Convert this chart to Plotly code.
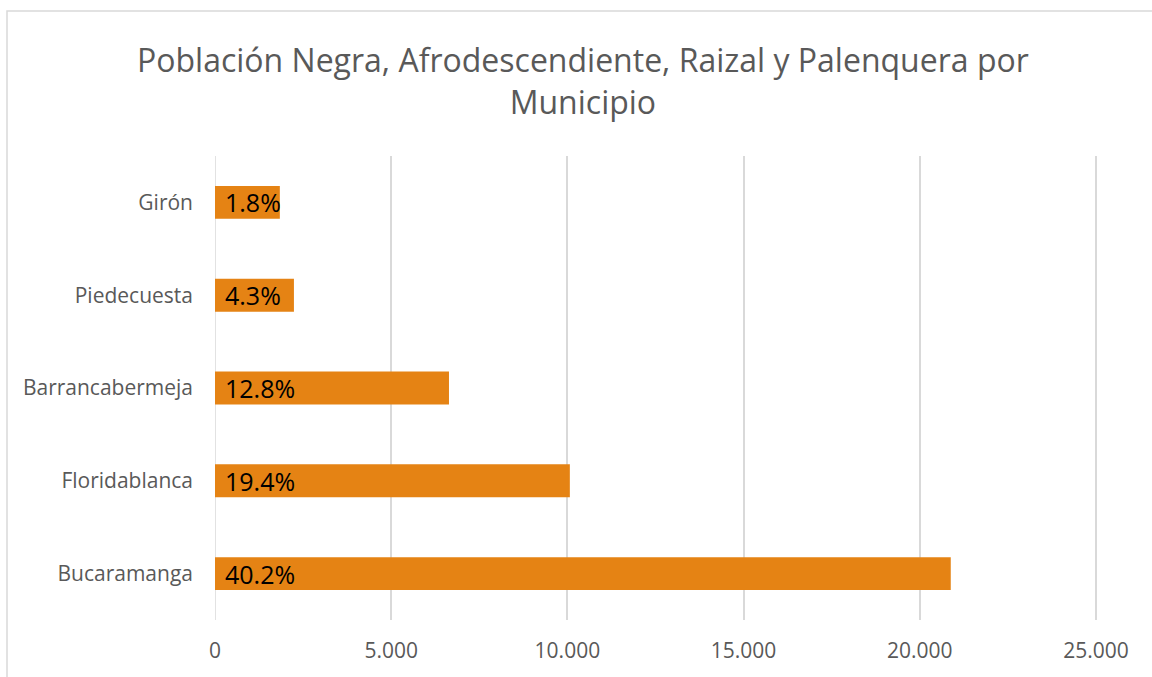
import plotly.graph_objects as go

municipios = ["Bucaramanga", "Floridablanca", "Barrancabermeja", "Piedecuesta", "Girón"]
poblacion = [20880, 10070, 6640, 2240, 1840]
porcentajes = ["40.2%", "19.4%", "12.8%", "4.3%", "1.8%"]
x_ticks = [0, 5000, 10000, 15000, 20000, 25000]

FONT = "Open Sans"
GRAY = "#595959"
GRID = "#D9D9D9"

fig = go.Figure()
fig.add_trace(go.Bar(
    y=municipios,
    x=poblacion,
    orientation="h",
    marker=dict(color="#E58314", line=dict(width=0)),
    hoverinfo="x+y",
))

annotations = [
    dict(x=0, y=m, xref="x", yref="y", text=p, showarrow=False,
         xanchor="left", yanchor="middle", xshift=8,
         font=dict(family=FONT, size=25, color="#000000"))
    for m, p in zip(municipios, porcentajes)
]

fig.update_layout(
    width=1152, height=677,
    paper_bgcolor="white", plot_bgcolor="white",
    separators=",.",
    margin=dict(l=215, r=55, t=156, b=57),
    bargap=0.645,
    showlegend=False,
    title=dict(
        text="Población Negra, Afrodescendiente, Raizal y Palenquera por<br>Municipio",
        x=0.506, xanchor="center",
        y=1 - 72 / 677, yanchor="top", yref="container",
        font=dict(family=FONT, size=32, color=GRAY),
    ),
    xaxis=dict(
        range=[0, 25030],
        tickvals=x_ticks,
        tickformat=",d",
        showgrid=True, gridcolor=GRID, gridwidth=1.5,
        zeroline=False, showline=False, automargin=False,
        ticks="", ticklabelstandoff=16,
        tickfont=dict(family=FONT, size=21, color=GRAY),
    ),
    yaxis=dict(
        categoryorder="array", categoryarray=municipios,
        showgrid=False, zeroline=False, showline=False, automargin=False,
        ticks="", ticklabelstandoff=21,
        tickfont=dict(family=FONT, size=21, color=GRAY),
    ),
    annotations=annotations,
    shapes=[
        dict(type="rect", xref="paper", yref="paper",
             x0=(7 - 215) / 882, x1=1.3,
             y0=-0.3, y1=1 + (156 - 11) / 464,
             line=dict(color=GRID, width=1.5),
             fillcolor="rgba(0,0,0,0)", layer="below"),
        dict(type="line", xref="x", yref="paper",
             x0=0, x1=0, y0=0, y1=1,
             line=dict(color=GRID, width=1.5), layer="below"),
    ],
)

fig.write_html("out.html", config={"displayModeBar": False},
               post_script="document.body.style.margin='0px';")
